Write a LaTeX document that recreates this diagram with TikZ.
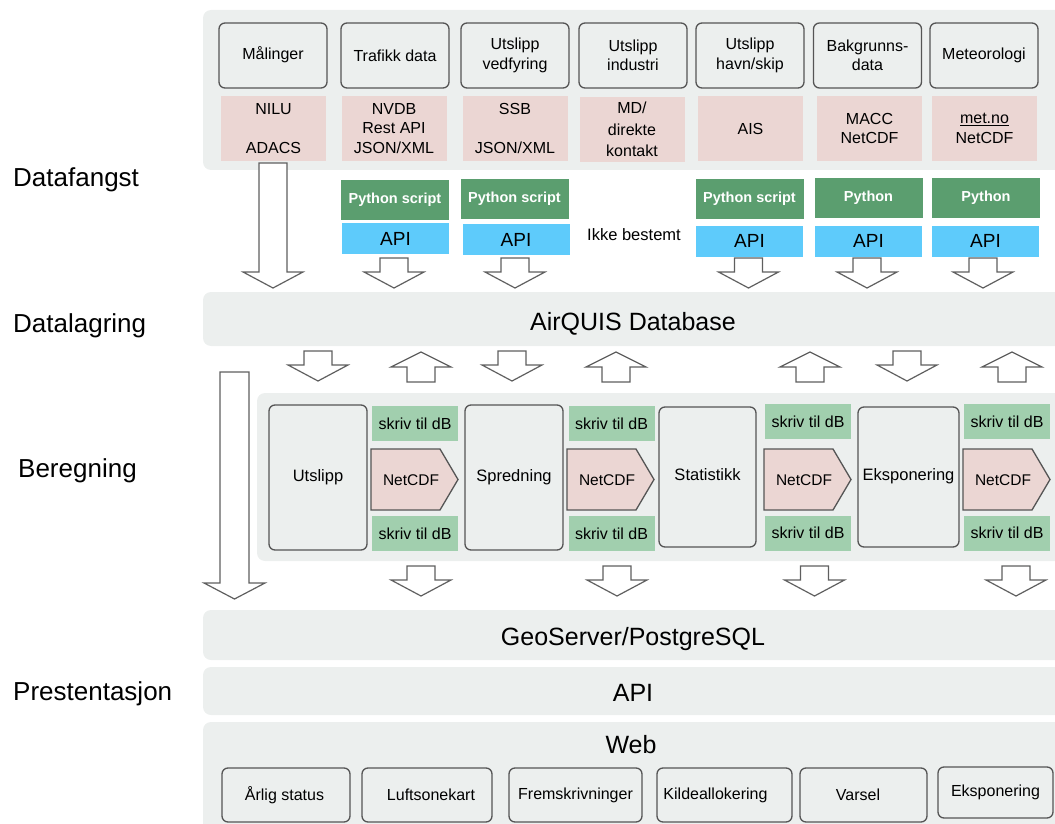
\documentclass[tikz,border=0pt]{standalone}
\usepackage{fontspec}
\setmainfont{Liberation Sans}
\definecolor{bandgray}{RGB}{236,239,238}
\definecolor{bord}{RGB}{85,85,85}
\definecolor{arrgray}{RGB}{95,95,95}
\definecolor{pinkc}{RGB}{235,214,211}
\definecolor{dgreen}{RGB}{91,158,111}
\definecolor{lgreen}{RGB}{161,207,174}
\definecolor{apiblue}{RGB}{94,203,251}
\newcommand\fsz[2]{\fontsize{#1}{#2}\selectfont}
\tikzset{
 band/.style={fill=bandgray, rounded corners=8pt},
 sbox/.style={draw=bord, line width=1.3pt, fill=bandgray, rounded corners=6pt, inner sep=0pt, align=center, font=\fsz{16}{19.5}},
 srcbox/.style={sbox, minimum width=108pt, minimum height=65pt},
 pinkbox/.style={fill=pinkc, inner sep=0pt, align=center, font=\fsz{16}{19.5}, minimum width=105pt, minimum height=65pt},
 pybox/.style={fill=dgreen, text=white, font=\bfseries\fsz{14.5}{17}, minimum width=108pt, minimum height=40pt, inner sep=0pt},
 apibox/.style={fill=apiblue, font=\fsz{19}{22}, minimum width=107pt, minimum height=31pt, inner sep=0pt},
 dbbox/.style={fill=lgreen, font=\fsz{16}{19}, minimum width=86pt, minimum height=35pt, inner sep=0pt},
 procbox/.style={sbox, minimum width=98pt, minimum height=145pt, font=\fsz{16.5}{19}},
 webbox/.style={sbox, minimum height=54pt},
 netst/.style={draw=bord, line width=1.3pt, fill=pinkc},
 blk/.style={draw=arrgray, line width=1.2pt, fill=white, line join=miter},
 lbl/.style={font=\fsz{26}{30}, anchor=base west, inner sep=0pt},
 bandtxt/.style={font=\fsz{25}{29}, anchor=base, inner sep=0pt},
 txt/.style={inner sep=0pt, font=\fsz{16}{19}},
 darrow/.pic={\draw[blk] (-14,0) -- (14,0) -- (14,14) -- (30,14) -- (0,30) -- (-30,14) -- (-14,14) -- cycle;},
 uarrow/.pic={\draw[blk] (0,0) -- (30,15) -- (14,15) -- (14,30) -- (-14,30) -- (-14,15) -- (-30,15) -- cycle;},
}
\newcommand\netcdf[2]{%
 \draw[netst] (#1,449) -- ++(69,0) -- ++(18,30.5) -- ++(-18,30.5) -- ++(-69,0) -- cycle;
 \node[txt, font=\fsz{15.5}{18}] (#2) at (#1+40,480) {NetCDF};}
\begin{document}
\begin{tikzpicture}[x=1pt,y=-1pt]
\useasboundingbox (0,0) rectangle (1055,824);
% bands
\fill[band] (203,10) rectangle (1075,170);
\fill[band] (203,292) rectangle (1075,346);
\fill[band] (257,393) rectangle (1075,561);
\fill[band] (203,610) rectangle (1075,660);
\fill[band] (203,667) rectangle (1075,715);
\fill[band] (203,722) rectangle (1075,840);
% left labels
\node[lbl] (l1) at (13,186) {Datafangst};
\node[lbl] (l2) at (13,332) {Datalagring};
\node[lbl] (l3) at (18,477) {Beregning};
\node[lbl] (l4) at (13,700) {Prestentasjon};
% sources
\node[srcbox] (s1) at (273,55.5) {\raisebox{5.5pt}{Målinger}};
\node[srcbox] (s2) at (395,55.5) {Trafikk data};
\node[srcbox] (s3) at (515,55.5) {Utslipp\\vedfyring};
\node[srcbox] (s4) at (633,55.5) {Utslipp\\industri};
\node[srcbox] (s5) at (750,55.5) {Utslipp\\havn/skip};
\node[srcbox] (s6) at (867.5,55.5) {Bakgrunns-\\data};
\node[srcbox] (s7) at (984,55.5) {Meteorologi};
\node[pinkbox] (p1) at (273.5,128.5) {NILU\\[19pt]ADACS};
\node[pinkbox] (p2) at (394,128.5) {NVDB\\Rest API\\JSON/XML};
\node[pinkbox] (p3) at (515,128.5) {SSB\\[19pt]JSON/XML};
\node[pinkbox] (p4) at (632,129.5) {MD/\\[2pt]direkte\\[2pt]kontakt};
\node[pinkbox] (p5) at (750.5,128.5) {AIS};
\node[pinkbox] (p6) at (869.5,128.5) {MACC\\NetCDF};
\node[pinkbox] (p7) at (984.5,128.5) {\underline{met.no}\\NetCDF};
% python + api
\node[pybox] (py2) at (395,200) {Python script};
\node[pybox] (py3) at (514.5,199) {Python script};
\node[pybox] (py5) at (749.5,198.5) {Python script};
\node[pybox] (py6) at (868.5,197.5) {Python};
\node[pybox] (py7) at (986,197.5) {Python};
\node[apibox] (a2) at (395.5,238.5) {\raisebox{-2pt}{API}};
\node[apibox] (a3) at (516,239.5) {\raisebox{-2pt}{API}};
\node[apibox] (a5) at (749.5,241) {\raisebox{-2pt}{API}};
\node[apibox] (a6) at (868.5,241) {\raisebox{-2pt}{API}};
\node[apibox] (a7) at (985.5,241) {\raisebox{-2pt}{API}};
\node[txt, font=\fsz{16.5}{19}] (ikke) at (634,235) {Ikke bestemt};
% big arrows
\draw[blk] (259,163) -- (287,163) -- (287,272) -- (303,272) -- (273,288) -- (243,272) -- (259,272) -- cycle;
\draw[blk] (220,372) -- (249,372) -- (249,583) -- (265,583) -- (234.5,599) -- (204,583) -- (220,583) -- cycle;
% small arrows into database
\foreach \x in {394,515,748.5,867,983} \pic at (\x,258) {darrow};
% database
\node[bandtxt] (db) at (633,330) {AirQUIS Database};
% arrows between database and computation
\foreach \x in {318,512,907} \pic at (\x,351) {darrow};
\foreach \x in {421,616,810,1012} \pic at (\x,352) {uarrow};
% computation
\node[procbox] (u) at (318,477.5) {\raisebox{4pt}{Utslipp}};
\node[procbox] (sp) at (514,477.5) {\raisebox{4pt}{Spredning}};
\node[procbox, minimum width=97pt, minimum height=140pt] (st) at (707.5,477) {\raisebox{4pt}{Statistikk}};
\node[procbox, minimum width=101pt, minimum height=140pt] (ek) at (908.5,477) {\raisebox{4pt}{Eksponering}};
\node[dbbox] (t1) at (415,423.5) {skriv til dB};
\node[dbbox] (t2) at (611.5,423.5) {skriv til dB};
\node[dbbox] (t3) at (808,421.5) {skriv til dB};
\node[dbbox] (t4) at (1007,421.5) {skriv til dB};
\node[dbbox] (b1) at (415,533.5) {skriv til dB};
\node[dbbox] (b2) at (611.5,533.5) {skriv til dB};
\node[dbbox] (b3) at (808,533) {skriv til dB};
\node[dbbox] (b4) at (1007,533) {skriv til dB};
\netcdf{371}{n1}
\netcdf{567}{n2}
\netcdf{764}{n3}
\netcdf{963}{n4}
% arrows to geoserver
\foreach \x in {421,617,814.5,1016} \pic at (\x,566) {darrow};
% presentation
\node[bandtxt] (geo) at (633,645) {GeoServer/PostgreSQL};
\node[bandtxt] (api) at (633,701) {API};
\node[bandtxt] (web) at (631,753) {Web};
\node[webbox, minimum width=128pt] (w1) at (286,795) {\raisebox{-3pt}{\hspace*{-3pt}Årlig status}};
\node[webbox, minimum width=130pt] (w2) at (427,795) {\raisebox{-2pt}{\hspace*{8pt}Luftsonekart}};
\node[webbox, minimum width=133pt] (w3) at (575.5,795) {\raisebox{-2pt}{Fremskrivninger}};
\node[webbox, minimum width=135pt] (w4) at (724.5,795) {\raisebox{-3pt}{\hspace*{-18pt}Kildeallokering}};
\node[webbox, minimum width=127pt] (w5) at (863.5,795) {\raisebox{-2pt}{\hspace*{-11pt}Varsel}};
\node[webbox, minimum width=115pt, minimum height=51pt] (w6) at (995.5,792.5) {\raisebox{-2pt}{Eksponering}};
\end{tikzpicture}
\end{document}
